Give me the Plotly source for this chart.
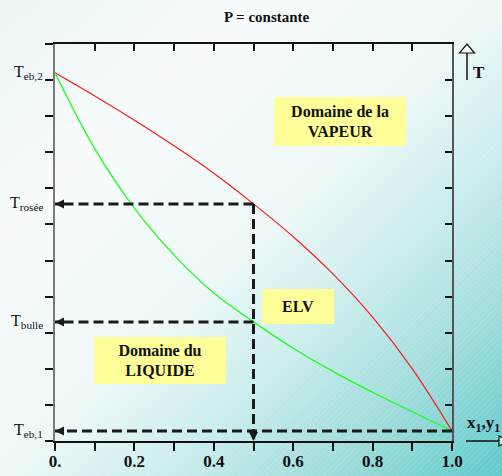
import base64
import plotly.graph_objects as go

# ---------------- data ----------------
x_comp = [0.0, 0.1, 0.2, 0.3, 0.4, 0.5, 0.6, 0.7, 0.8, 0.9, 1.0]
T_dew = [10.2, 9.56, 8.89, 8.18, 7.42, 6.57, 5.66, 4.63, 3.43, 2.00, 0.28]
T_bubble = [10.2, 8.10, 6.45, 5.15, 4.10, 3.30, 2.57, 1.93, 1.35, 0.81, 0.28]

x_sel = 0.5
T_eb2 = 10.2
T_rosee = 6.57
T_bulle = 3.30
T_eb1 = 0.28

x_tickvals = [0.0, 0.2, 0.4, 0.6, 0.8, 1.0]
x_ticktext = ["0.", "0.2", "0.4", "0.6", "0.8", "1.0"]
x_minorvals = [0.1, 0.3, 0.5, 0.7, 0.9]
x_allticks = [0.0, 0.1, 0.2, 0.3, 0.4, 0.5, 0.6, 0.7, 0.8, 0.9, 1.0]
y_tickvals = [0, 1, 2, 3, 4, 5, 6, 7, 8, 9, 10, 11]

t_labels = ["T<sub>eb,2</sub>", "T<sub>rosée</sub>", "T<sub>bulle</sub>", "T<sub>eb,1</sub>"]
t_label_vals = [T_eb2, T_rosee, T_bulle, T_eb1]

box_texts = ["<b>Domaine de la<br>VAPEUR</b>", "<b>ELV</b>", "<b>Domaine du<br>LIQUIDE</b>"]
box_x = [0.718, 0.612, 0.264]
box_y = [8.85, 3.72, 2.23]
box_w = [132, 72, 132]
box_h = [49, 35, 47]

# ---------------- layout geometry ----------------
W, H = 502, 476
ML, MR, MT, MB = 55, 50, 44, 35
PW, PH = W - ML - MR, H - MT - MB
SERIF = "Liberation Serif, Times New Roman, serif"


def px(xp):
    return (xp - ML) / PW


def py(yp):
    return (H - MB - yp) / PH


svg = f'''<svg xmlns="http://www.w3.org/2000/svg" width="{W}" height="{H}" viewBox="0 0 {W} {H}" preserveAspectRatio="none">
<defs>
<linearGradient id="g" x1="0" y1="0" x2="1" y2="1">
<stop offset="0" stop-color="#eaf4f4"/>
<stop offset="0.25" stop-color="#f8fcfc"/>
<stop offset="0.5" stop-color="#eef8f8"/>
<stop offset="0.65" stop-color="#cdeeee"/>
<stop offset="0.82" stop-color="#a0dcdc"/>
<stop offset="1" stop-color="#5ecaca"/>
</linearGradient>
<pattern id="p" width="4" height="4" patternUnits="userSpaceOnUse" patternTransform="rotate(45)">
<rect width="1" height="4" fill="#ffffff" fill-opacity="0.12"/>
</pattern>
</defs>
<rect width="{W}" height="{H}" fill="url(#g)"/>
<rect width="{W}" height="{H}" fill="url(#p)"/>
</svg>'''
bg_uri = "data:image/svg+xml;base64," + base64.b64encode(svg.encode()).decode()

fig = go.Figure()

# curves
fig.add_trace(go.Scatter(x=x_comp, y=T_dew, mode="lines",
                         line=dict(color="#ff1a1a", width=1.2, shape="spline", smoothing=1.0),
                         hoverinfo="skip", showlegend=False))
fig.add_trace(go.Scatter(x=x_comp, y=T_bubble, mode="lines",
                         line=dict(color="#1aff1a", width=1.3, shape="spline", smoothing=1.0),
                         hoverinfo="skip", showlegend=False))

dash_style = dict(color="#1a1a1a", width=3, dash="10px,5px")
# dashed construction lines
fig.add_trace(go.Scatter(x=[x_sel, 0], y=[T_rosee, T_rosee], mode="lines", line=dash_style,
                         hoverinfo="skip", showlegend=False, cliponaxis=False))
fig.add_trace(go.Scatter(x=[x_sel, x_sel], y=[T_rosee, 0], mode="lines", line=dash_style,
                         hoverinfo="skip", showlegend=False, cliponaxis=False))
fig.add_trace(go.Scatter(x=[x_sel, 0], y=[T_bulle, T_bulle], mode="lines", line=dash_style,
                         hoverinfo="skip", showlegend=False, cliponaxis=False))
fig.add_trace(go.Scatter(x=[1.0, 0], y=[T_eb1, T_eb1], mode="lines", line=dash_style,
                         hoverinfo="skip", showlegend=False, cliponaxis=False))
# arrow heads
fig.add_trace(go.Scatter(x=[0, 0, 0], y=[T_rosee, T_bulle, T_eb1], mode="markers",
                         marker=dict(symbol="arrow-left", size=9, color="#1a1a1a"),
                         hoverinfo="skip", showlegend=False, cliponaxis=False))
fig.add_trace(go.Scatter(x=[x_sel], y=[0], mode="markers",
                         marker=dict(symbol="arrow-down", size=9, color="#1a1a1a"),
                         hoverinfo="skip", showlegend=False, cliponaxis=False))
# invisible trace for mirrored axes
fig.add_trace(go.Scatter(x=[0], y=[0], xaxis="x2", yaxis="y2", mode="markers",
                         marker=dict(opacity=0), hoverinfo="skip", showlegend=False))

annotations = []
# title
annotations.append(dict(text="<b>P = constante</b>", x=px(267), y=py(17), xref="paper", yref="paper",
                        xanchor="center", yanchor="middle", showarrow=False,
                        font=dict(family=SERIF, size=15, color="#111")))
# T labels on left
for t, v in zip(t_labels, t_label_vals):
    annotations.append(dict(text=t, x=px(45), y=v, xref="paper", yref="y", xanchor="right",
                            yanchor="middle", showarrow=False,
                            font=dict(family=SERIF, size=16, color="#111")))
# yellow boxes
for t, bx, by, bw, bh in zip(box_texts, box_x, box_y, box_w, box_h):
    annotations.append(dict(text=t, x=bx, y=by, xref="x", yref="y", showarrow=False,
                            xanchor="center", yanchor="middle",
                            width=bw, height=bh, bgcolor="#ffff99", borderwidth=0, borderpad=0,
                            align="center", valign="middle",
                            font=dict(family=SERIF, size=16, color="#111")))
# axis name labels
annotations.append(dict(text="<b>T</b>", x=px(479), y=py(73), xref="paper", yref="paper",
                        xanchor="center", yanchor="middle", showarrow=False,
                        font=dict(family=SERIF, size=17, color="#111")))
annotations.append(dict(text="<b>x<sub>1</sub>,y<sub>1</sub></b>", x=px(465), y=py(424),
                        xref="paper", yref="paper", xanchor="left", yanchor="middle",
                        showarrow=False, font=dict(family=SERIF, size=17, color="#111")))

shapes = [
    # T axis arrow
    dict(type="line", xref="paper", yref="paper", x0=px(467), x1=px(467), y0=py(80), y1=py(53),
         line=dict(color="#111", width=1.5)),
    dict(type="path", xref="paper", yref="paper",
         path=f"M {px(459.5)},{py(53)} L {px(474.5)},{py(53)} L {px(467)},{py(44)} Z",
         line=dict(color="#111", width=1.2), fillcolor="rgba(255,255,255,0.9)"),
    # composition axis arrow
    dict(type="line", xref="paper", yref="paper", x0=px(466), x1=px(499), y0=py(441), y1=py(441),
         line=dict(color="#111", width=1.5)),
    dict(type="path", xref="paper", yref="paper",
         path=f"M {px(499)},{py(436)} L {px(499)},{py(446)} L {px(508)},{py(441)} Z",
         line=dict(color="#111", width=1.2), fillcolor="rgba(255,255,255,0.6)"),
]

fig.update_layout(
    width=W, height=H,
    margin=dict(l=ML, r=MR, t=MT, b=MB, pad=0, autoexpand=False),
    paper_bgcolor="rgba(0,0,0,0)", plot_bgcolor="rgba(0,0,0,0)",
    showlegend=False,
    images=[dict(source=bg_uri, xref="paper", yref="paper", x=px(0), y=py(0),
                 sizex=W / PW, sizey=H / PH, xanchor="left", yanchor="top",
                 sizing="stretch", layer="below")],
    xaxis=dict(range=[0, 1], tickmode="array", tickvals=x_tickvals, ticktext=x_ticktext,
               ticks="outside", ticklen=8, tickwidth=1.5, tickcolor="#111", automargin=False,
               minor=dict(tickmode="array", tickvals=x_minorvals, ticks="outside", ticklen=8,
                          tickwidth=1.5, tickcolor="#111", showgrid=False),
               ticklabelstandoff=-4,
               showline=True, linecolor="#111", linewidth=1.5, showgrid=False, zeroline=False,
               tickfont=dict(family=SERIF, size=17, color="#111", weight="bold")),
    yaxis=dict(range=[0, 11], tickvals=y_tickvals, showticklabels=False, ticks="outside",
               ticklen=8, tickwidth=1.5, tickcolor="#111", showline=True, linecolor="#7a7a7a",
               linewidth=2, showgrid=False, zeroline=False, automargin=False),
    xaxis2=dict(range=[0, 1], overlaying="x", side="top", anchor="y", tickvals=x_allticks,
                showticklabels=False, ticks="inside", ticklen=7, tickwidth=1.5, tickcolor="#111",
                showline=True, linecolor="#111", linewidth=1.5, showgrid=False, zeroline=False,
                automargin=False),
    yaxis2=dict(range=[0, 11], overlaying="y", side="right", anchor="x", tickvals=y_tickvals,
                showticklabels=False, ticks="inside", ticklen=7, tickwidth=1.5, tickcolor="#111",
                showline=True, linecolor="#555", linewidth=2, showgrid=False, zeroline=False,
                automargin=False),
    annotations=annotations,
    shapes=shapes,
)

fig.write_html("out.html", config={"displayModeBar": False},
               post_script="document.body.style.margin='0';")
